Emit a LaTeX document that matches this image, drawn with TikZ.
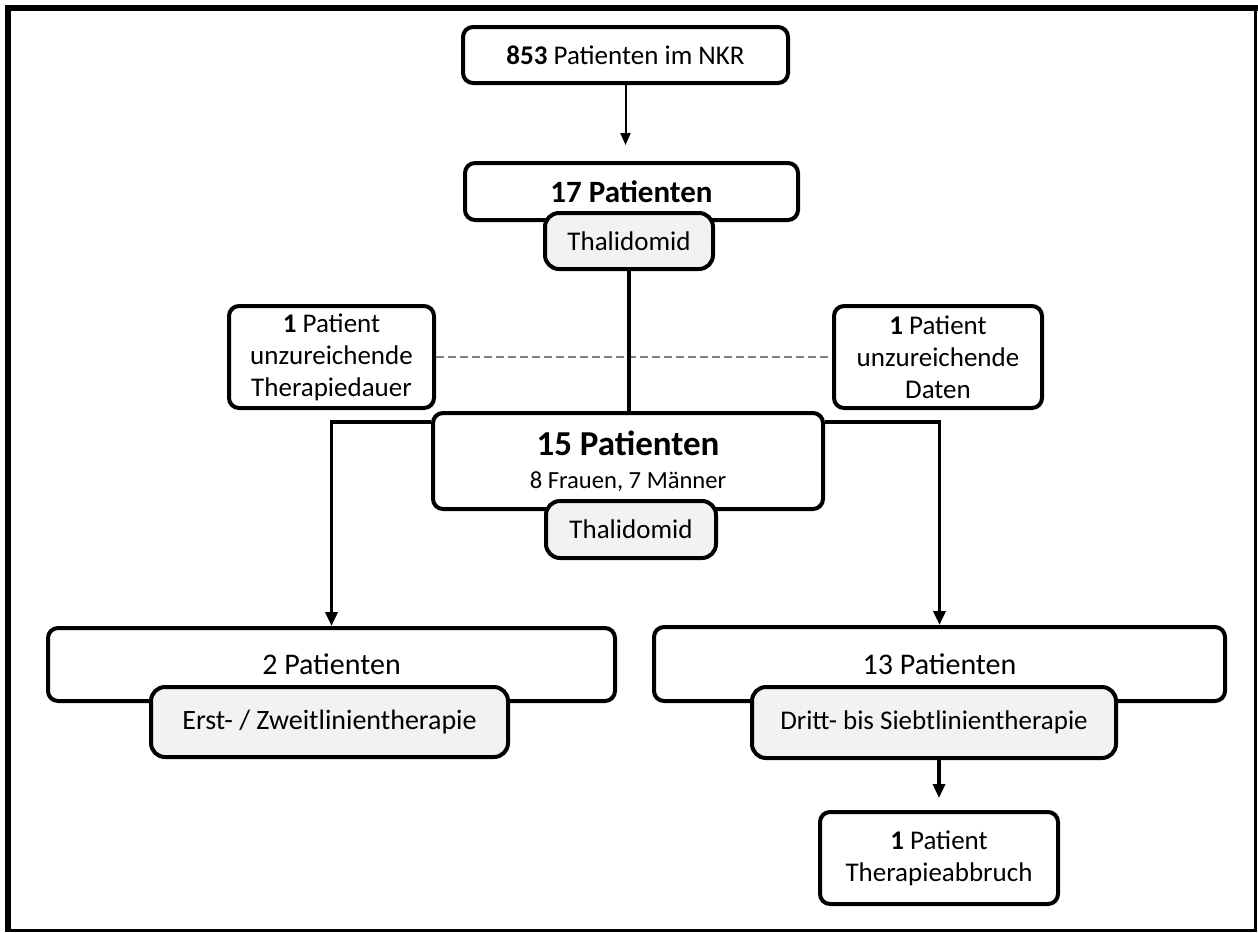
\documentclass[tikz,border=0pt]{standalone}
\usepackage{fontspec}
\setmainfont{Carlito}
\usetikzlibrary{arrows.meta,positioning,calc}
\definecolor{drugfill}{RGB}{242,242,242}
\definecolor{dropgray}{RGB}{128,128,128}

\begin{document}
\begin{tikzpicture}[x=0.5pt, y=-0.5pt,
    box/.style={draw, line width=2pt, rounded corners=5pt, fill=white, align=center,
                inner sep=0pt, font=\fontsize{13.5}{16}\selectfont},
    drug/.style={box, fill=drugfill, rounded corners=7pt},
    flow/.style={line width=1.8pt, -{Triangle[width=6pt,length=7pt]}},
    thinflow/.style={line width=1pt, -{Triangle[width=5pt,length=6pt]}},
    drop/.style={dropgray, line width=1pt, dash pattern=on 4pt off 2pt}]
    \useasboundingbox (0,0) rectangle (1258,932);
    % frame
    \draw[line width=3pt] (8,932) -- (8,8) -- (1258,8);
    \draw[line width=1.2pt] (5,930.5) -- (1255.5,930.5) -- (1255.5,8);

    % nodes
    \node[box, minimum width=162.5pt, minimum height=28pt] (nkr) at (625.5,55) {\textbf{853} Patienten im NKR};
    \node[box, minimum width=166.5pt, minimum height=28.5pt, font=\fontsize{15.5}{18}\selectfont\bfseries] (p17) at (631.5,191.5) {17 Patienten};
    \node[drug, minimum width=84pt, minimum height=28pt] (thal1) at (629,241) {Thalidomid};
    \node[box, minimum width=102.5pt, minimum height=51pt] (out1) at (331.5,357) {\textbf{1} Patient\\unzureichende\\Therapiedauer};
    \node[box, minimum width=104pt, minimum height=51pt] (out2) at (938,357) {\textbf{1} Patient\\unzureichende\\Daten};
    \node[box, minimum width=195pt, minimum height=48pt, font=\fontsize{12.3}{16.5}\selectfont] (p15) at (628,461) {{\fontsize{17.5}{20}\selectfont\bfseries 15 Patienten}\\8 Frauen, 7 Männer};
    \node[drug, minimum width=85pt, minimum height=28.5pt] (thal2) at (631,529.5) {Thalidomid};
    \node[box, minimum width=283.5pt, minimum height=36.5pt, font=\fontsize{15}{17}\selectfont] (p2) at (331.5,664.5) {2 Patienten};
    \node[drug, minimum width=178.5pt, minimum height=35pt, font=\fontsize{14}{16}\selectfont] (erst) at (329.5,722) {Erst- / Zweitlinientherapie};
    \node[box, minimum width=285.5pt, minimum height=37pt, font=\fontsize{15}{17}\selectfont] (p13) at (939.5,664) {13 Patienten};
    \node[drug, minimum width=182pt, minimum height=35.5pt] (dritt) at (934,722.5) {Dritt- bis Siebtlinientherapie};
    \node[box, minimum width=119pt, minimum height=46pt] (abbr) at (939,858) {\textbf{1} Patient\\Therapieabbruch};

    % connectors
    \draw[drop] (out1.east) -- (out2.west);
    \draw[thinflow, shorten >=8pt] (nkr.south) -- (nkr.south |- p17.north);
    \draw[line width=1.8pt] (thal1.south) -- (thal1.south |- p15.north);
    \draw[flow] ($(p15.north west)+(0,11)$) -| (p2.north);
    \draw[flow] ($(p15.north east)+(0,11)$) -| (p13.north);
    \draw[flow, shorten >=6pt] (dritt.south -| abbr.north) -- (abbr.north);
\end{tikzpicture}
\end{document}
